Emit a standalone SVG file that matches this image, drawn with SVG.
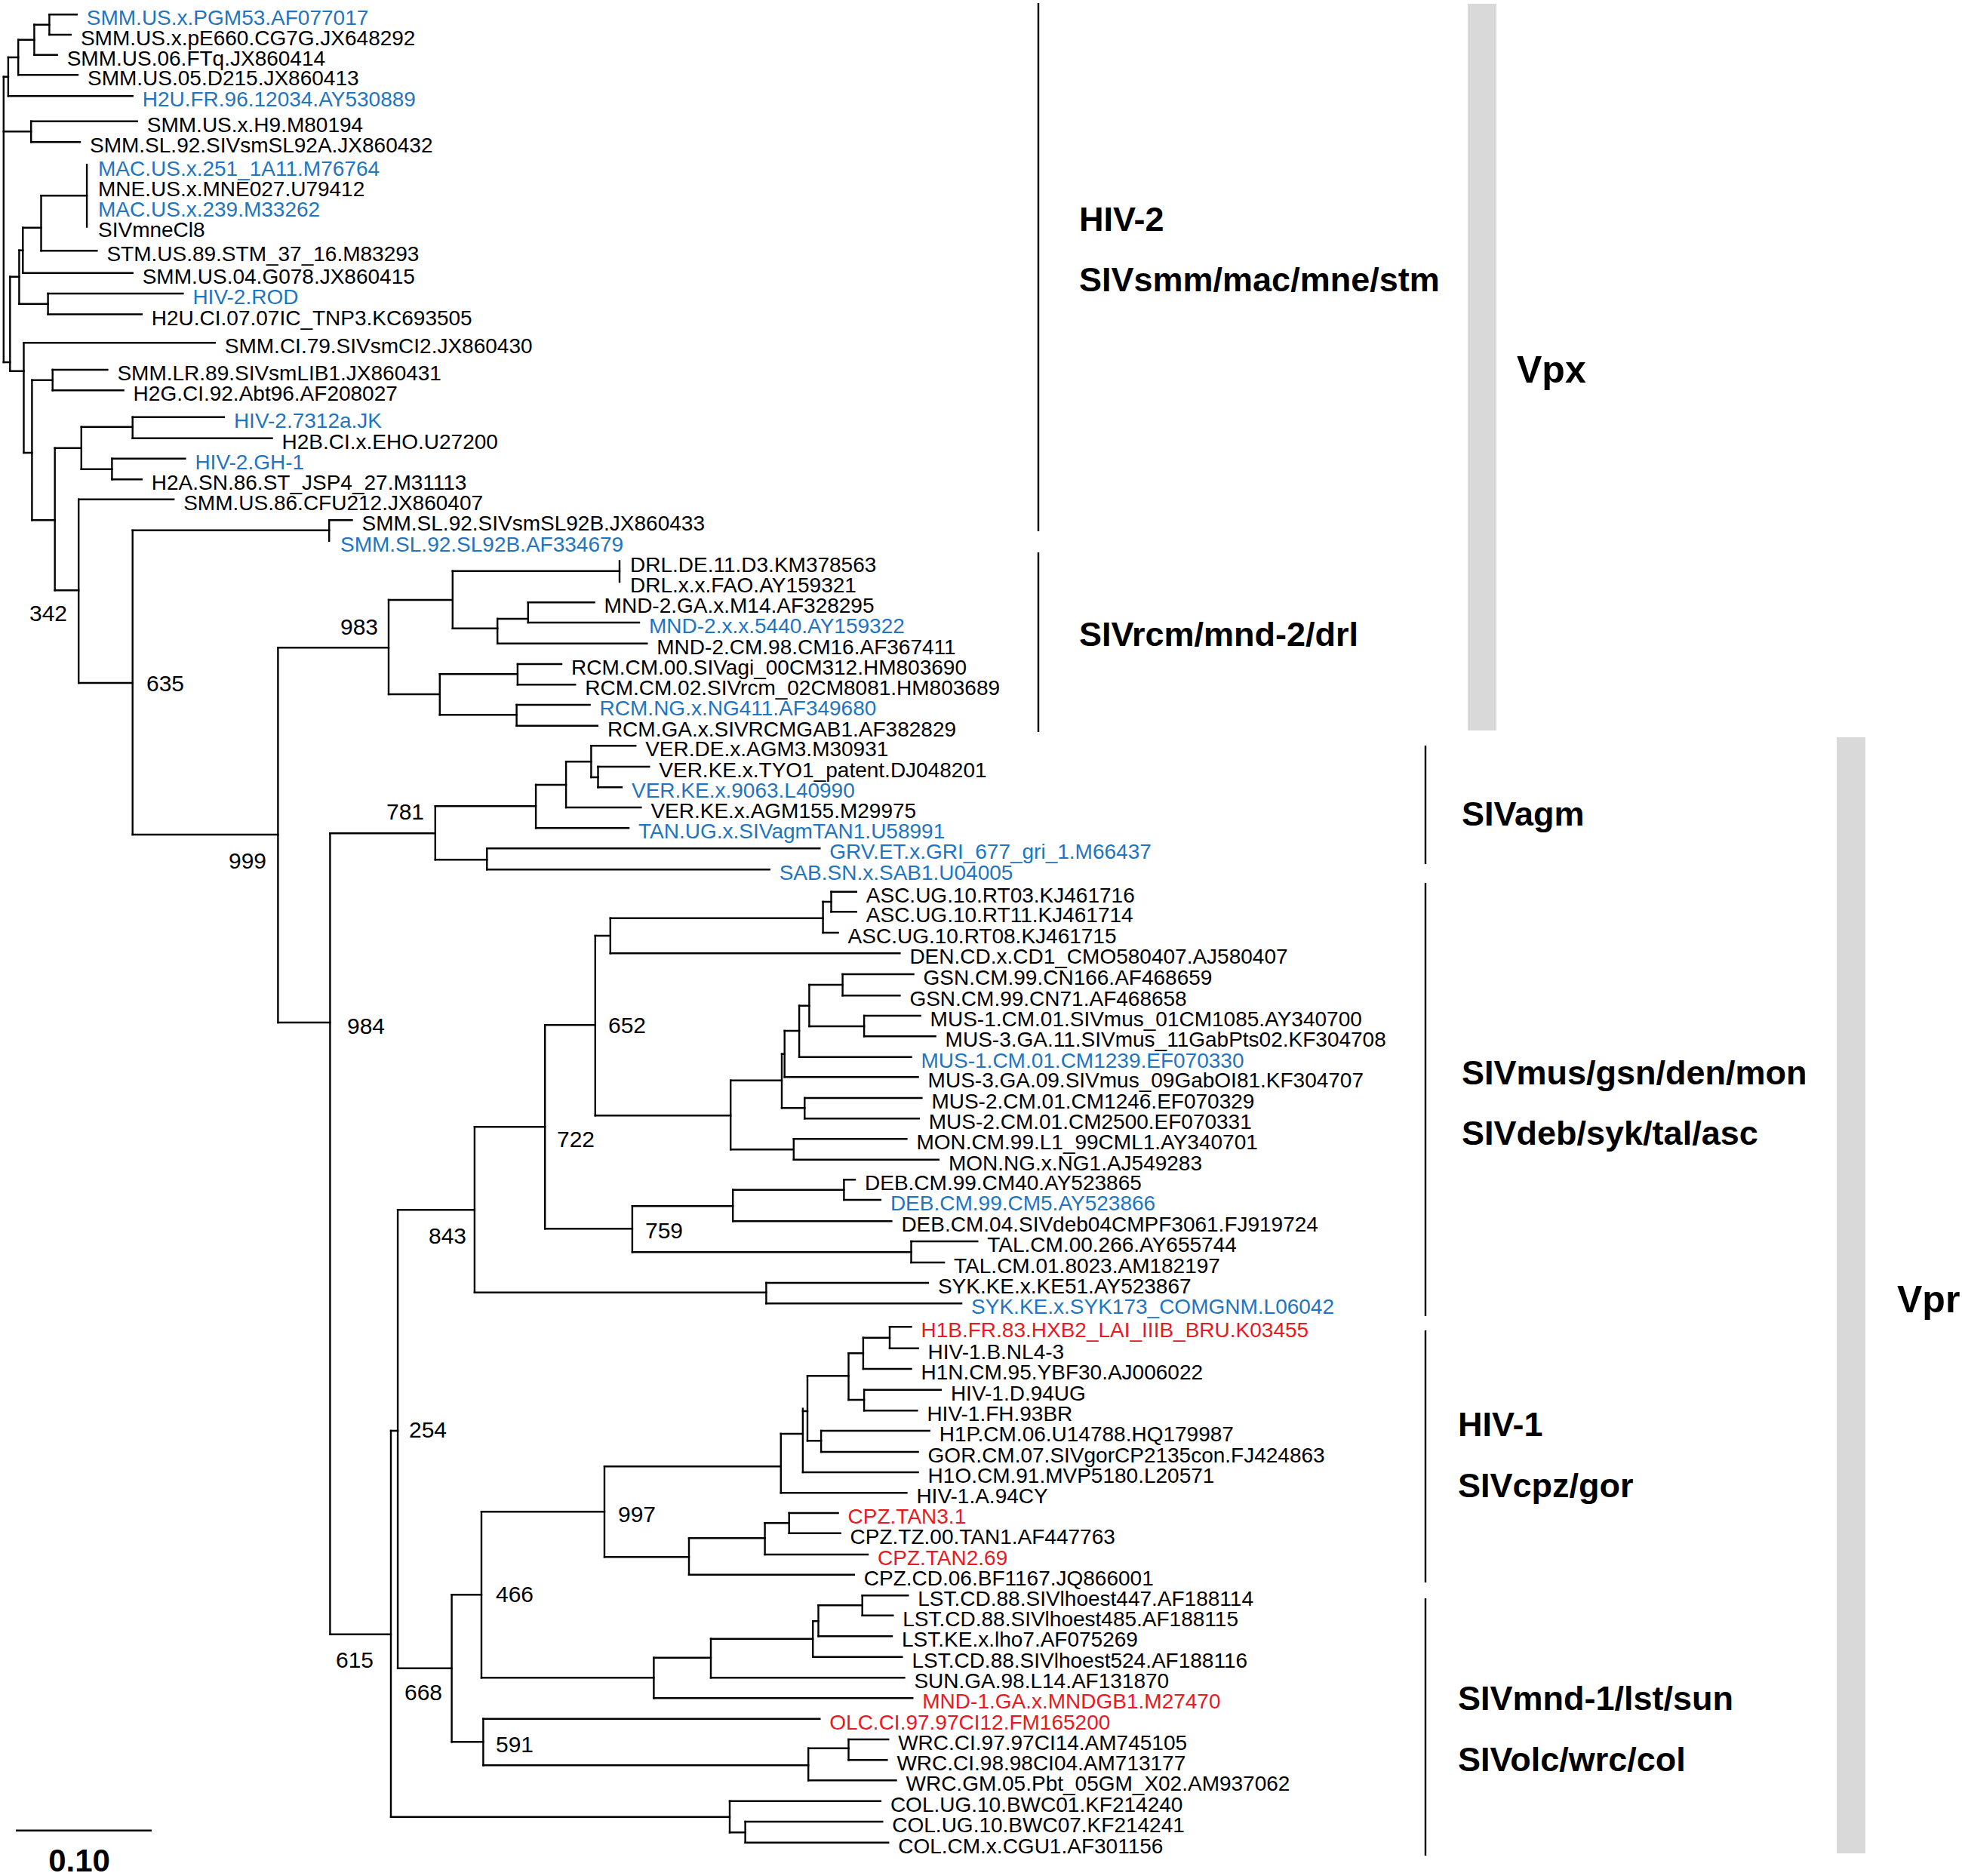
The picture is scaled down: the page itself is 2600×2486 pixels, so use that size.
<svg xmlns="http://www.w3.org/2000/svg" width="2600" height="2486" viewBox="0 0 2600 2486">
<style>
.t{font-family:"Liberation Sans",Arial,sans-serif;font-size:28px;fill:#000}
.b{fill:#1f75c1}
.r{fill:#e8191f}
.bs{font-family:"Liberation Sans",Arial,sans-serif;font-size:30px;fill:#000}
.cl{font-family:"Liberation Sans",Arial,sans-serif;font-size:45px;font-weight:bold;fill:#000}
.gp{font-family:"Liberation Sans",Arial,sans-serif;font-size:50px;font-weight:bold;fill:#000}
.br{fill:none;stroke:#000;stroke-width:2.4;stroke-linecap:square}
.bk{fill:none;stroke:#000;stroke-width:2.4}
</style>
<rect width="2600" height="2486" fill="#fff"/>
<g id="bars">
<rect x="1945" y="5" width="38" height="963" fill="#d9d9d9"/>
<rect x="2434" y="977" width="38" height="1479" fill="#d9d9d9"/>
</g>
<g id="connectors">
<path class="br" d="M65.4 19.3V46M45.4 32.7V72.7M24.2 52.7V99.3M10.9 76V127.3M4.8 101.7V480M41.2 160.7V188.3M13.3 366.7V491.7M25.4 331.7V402.7M30.3 301.7V361.7M54.5 259.3V332.3M115.1 218.3V300.5M63.6 389V416.5M31.5 454.3V600M42.4 503.7V689.3M69.7 490V517.3M72.7 593.7V782.3M107.8 565.7V621.7M175.7 552.7V580.7M148.4 607.7V635.3M104.2 661.7V905M436.2 689.3V716.7M175.7 702.7V1106M368.4 858.3V1355M515 795V920M599.8 756.7V832.7M821 743.5V771M659.2 820V852.7M699.8 798.3V825M582.8 893.3V947.3M685.9 880V907.3M684.6 934V961.7M437.4 1104.3V2165.7M576.8 1068.3V1139.3M710.1 1040V1097.3M750.1 1009.3V1070M783.4 988.3V1030M792.5 1016V1043.3M645.3 1124.3V1152.3M518 1896V2407.7M527.1 1603.3V2210.7M628.9 1493.3V1712.7M722.2 1358.3V1628.3M788.8 1240V1478.3M808.8 1216.7V1263.3M1090.6 1195V1236M1101.5 1181.7V1208.3M968.2 1431.7V1523.3M1051.8 1509.3V1536.7M1036 1396.7V1468.3M1039.7 1366V1427.3M1059.1 1332.7V1400.7M1072.4 1305V1360M1116.6 1291V1319.3M1145.1 1346V1373.3M1066.3 1455V1482.3M837.9 1598.3V1659.3M971.2 1576.7V1618.3M1118.4 1563.3V1590M1207.5 1645V1673M1015.4 1700V1727.3M598.6 2113.3V2308.3M638 2003.3V2223.3M801 1943.3V2063.3M1034.8 1900V1978.3M1063.9 1866.7V1951M1070 1823.3V1909.3M1088.1 1896V1924M1124.5 1793.3V1855M1145.1 1841.7V1869.3M1143.9 1772.7V1814M1179 1758.3V1786.7M913 2038.3V2086.7M1013.6 2018.3V2060M1045.7 2005V2031.7M866.4 2196.7V2250.3M942 2171.7V2223.3M1077.2 2148.3V2195.7M1084.5 2127.3V2168.3M1142.7 2114.3V2140.7M640.4 2277.7V2339.3M1071.2 2316.7V2359.3M1124.5 2305V2332.3M967 2386.7V2428.3M987.6 2414V2441.7"/>
<path class="br" d="M45.4 32.7H65.4M24.2 52.7H45.4M10.9 76H24.2M4.8 101.7H10.9M4.8 174.3H41.2M4.8 480H13.3M13.3 366.7H25.4M13.3 491.7H31.5M25.4 331.7H30.3M25.4 402.7H63.6M30.3 301.7H54.5M54.5 259.3H115.1M31.5 600H42.4M42.4 503.7H69.7M42.4 689.3H72.7M72.7 593.7H107.8M107.8 565.7H175.7M107.8 621.7H148.4M72.7 782.3H104.2M104.2 905H175.7M175.7 702.7H436.2M175.7 1106H368.4M368.4 858.3H515M368.4 1355H437.4M515 795H599.8M515 920H582.8M599.8 756.7H821M599.8 832.7H659.2M659.2 820H699.8M582.8 893.3H685.9M582.8 947.3H684.6M437.4 1104.3H576.8M437.4 2165.7H518M576.8 1068.3H710.1M576.8 1139.3H645.3M710.1 1040H750.1M750.1 1009.3H783.4M783.4 1030H792.5M518 1896H527.1M518 2407.7H967M527.1 1603.3H628.9M527.1 2210.7H598.6M628.9 1493.3H722.2M628.9 1712.7H1015.4M722.2 1358.3H788.8M722.2 1628.3H837.9M788.8 1240H808.8M788.8 1478.3H968.2M808.8 1216.7H1090.6M1090.6 1195H1101.5M968.2 1523.3H1051.8M968.2 1431.7H1036M1036 1396.7H1039.7M1036 1468.3H1066.3M1039.7 1366H1059.1M1059.1 1332.7H1072.4M1072.4 1305H1116.6M1072.4 1360H1145.1M837.9 1598.3H971.2M837.9 1659.3H1207.5M971.2 1576.7H1118.4M598.6 2113.3H638M598.6 2308.3H640.4M638 2003.3H801M638 2223.3H866.4M801 1943.3H1034.8M801 2063.3H913M1034.8 1900H1063.9M1063.9 1870H1070M1070 1909.3H1088.1M1070 1823.3H1124.5M1124.5 1793.3H1143.9M1124.5 1855H1145.1M1143.9 1772.7H1179M913 2038.3H1013.6M1013.6 2018.3H1045.7M866.4 2196.7H942M942 2171.7H1077.2M1077.2 2148.3H1084.5M1084.5 2127.3H1142.7M640.4 2339.3H1071.2M1071.2 2316.7H1124.5M967 2428.3H987.6"/>
<path class="br" d="M65.4 19.3H101.8M65.4 46H93.9M45.4 72.7H75.7M24.2 99.3H103M10.9 127.3H175.7M41.2 160.7H181.8M41.2 188.3H106M54.5 332.3H128.4M30.3 361.7H175.7M63.6 389H242.4M63.6 416.5H187.8M31.5 454.3H284.8M69.7 490H142.4M69.7 517.3H163.6M175.7 552.7H296.9M175.7 580.7H360.5M148.4 607.7H245.4M148.4 635.3H187.8M104.2 661.7H230.2M436.2 689.3H466.5M699.8 798.3H787.6M699.8 825H847M659.2 852.7H857.3M685.9 880H744M685.9 907.3H762.2M684.6 934H781.6M684.6 961.7H791.9M783.4 988.3H842.2M792.5 1016H860.3M792.5 1043.3H824M750.1 1070H849.4M710.1 1097.3H833.1M645.3 1124.3H1086.3M645.3 1152.3H1019.7M1101.5 1181.7H1134.8M1101.5 1208.3H1134.8M1090.6 1236H1110.6M808.8 1263.3H1192.4M1116.6 1291H1210.5M1116.6 1319.3H1192.4M1145.1 1346H1219.6M1145.1 1373.3H1239.6M1059.1 1400.7H1207.5M1039.7 1427.3H1216.6M1066.3 1455H1221.4M1066.3 1482.3H1217.8M1051.8 1509.3H1201.4M1051.8 1536.7H1243.9M1118.4 1563.3H1133M1118.4 1590H1166.9M971.2 1618.3H1181.4M1207.5 1645H1295.3M1207.5 1673H1251.1M1015.4 1700H1229.9M1015.4 1727.3H1274.1M1179 1758.3H1207.5M1179 1786.7H1216.6M1143.9 1814H1207.5M1145.1 1841.7H1246.9M1145.1 1869.3H1215.4M1088.1 1896H1231.7M1088.1 1924H1216.6M1063.9 1951H1216.6M1034.8 1978.3H1201.4M1045.7 2005H1110.6M1045.7 2031.7H1113.6M1013.6 2060H1150M913 2086.7H1131.8M1142.7 2114.3H1203.3M1142.7 2140.7H1183.3M1084.5 2168.3H1182M1077.2 2195.7H1195.4M942 2223.3H1198.4M866.4 2250.3H1209.3M640.4 2277.7H1086.3M1124.5 2305H1177.2M1124.5 2332.3H1175.4M1071.2 2359.3H1187.5M967 2386.7H1166.9M987.6 2414H1169.3M987.6 2441.7H1177.2"/>
</g>
<g id="leaves">
<g id="n01"><text class="t b" x="114.8" y="33.3">SMM.US.x.PGM53.AF077017</text></g>
<g id="n02"><text class="t" x="106.9" y="60">SMM.US.x.pE660.CG7G.JX648292</text></g>
<g id="n03"><text class="t" x="88.7" y="86.7">SMM.US.06.FTq.JX860414</text></g>
<g id="n04"><text class="t" x="116" y="113.3">SMM.US.05.D215.JX860413</text></g>
<g id="n05"><text class="t b" x="188.7" y="141.3">H2U.FR.96.12034.AY530889</text></g>
<g id="n06"><text class="t" x="194.8" y="174.7">SMM.US.x.H9.M80194</text></g>
<g id="n07"><text class="t" x="119" y="202.3">SMM.SL.92.SIVsmSL92A.JX860432</text></g>
<g id="n08"><text class="t b" x="130" y="233">MAC.US.x.251_1A11.M76764</text></g>
<g id="n09"><text class="t" x="130" y="260">MNE.US.x.MNE027.U79412</text></g>
<g id="n10"><text class="t b" x="130" y="287">MAC.US.x.239.M33262</text></g>
<g id="n11"><text class="t" x="130" y="314">SIVmneCl8</text></g>
<g id="n12"><text class="t" x="141.4" y="346.3">STM.US.89.STM_37_16.M83293</text></g>
<g id="n13"><text class="t" x="188.7" y="375.7">SMM.US.04.G078.JX860415</text></g>
<g id="n14"><text class="t b" x="255.4" y="403">HIV-2.ROD</text></g>
<g id="n15"><text class="t" x="200.8" y="430.5">H2U.CI.07.07IC_TNP3.KC693505</text></g>
<g id="n16"><text class="t" x="297.8" y="468.3">SMM.CI.79.SIVsmCI2.JX860430</text></g>
<g id="n17"><text class="t" x="155.4" y="504">SMM.LR.89.SIVsmLIB1.JX860431</text></g>
<g id="n18"><text class="t" x="176.6" y="531.3">H2G.CI.92.Abt96.AF208027</text></g>
<g id="n19"><text class="t b" x="309.9" y="566.7">HIV-2.7312a.JK</text></g>
<g id="n20"><text class="t" x="373.5" y="594.7">H2B.CI.x.EHO.U27200</text></g>
<g id="n21"><text class="t b" x="258.4" y="621.7">HIV-2.GH-1</text></g>
<g id="n22"><text class="t" x="200.8" y="649.3">H2A.SN.86.ST_JSP4_27.M31113</text></g>
<g id="n23"><text class="t" x="243.2" y="675.7">SMM.US.86.CFU212.JX860407</text></g>
<g id="n24"><text class="t" x="479.5" y="703.3">SMM.SL.92.SIVsmSL92B.JX860433</text></g>
<g id="n25"><text class="t b" x="451" y="730.7">SMM.SL.92.SL92B.AF334679</text></g>
<g id="n26"><text class="t" x="835" y="757.5">DRL.DE.11.D3.KM378563</text></g>
<g id="n27"><text class="t" x="835" y="785">DRL.x.x.FAO.AY159321</text></g>
<g id="n28"><text class="t" x="800.6" y="812.3">MND-2.GA.x.M14.AF328295</text></g>
<g id="n29"><text class="t b" x="860" y="839">MND-2.x.x.5440.AY159322</text></g>
<g id="n30"><text class="t" x="870.3" y="866.7">MND-2.CM.98.CM16.AF367411</text></g>
<g id="n31"><text class="t" x="757" y="894">RCM.CM.00.SIVagi_00CM312.HM803690</text></g>
<g id="n32"><text class="t" x="775.2" y="921.3">RCM.CM.02.SIVrcm_02CM8081.HM803689</text></g>
<g id="n33"><text class="t b" x="794.6" y="948">RCM.NG.x.NG411.AF349680</text></g>
<g id="n34"><text class="t" x="804.9" y="975.7">RCM.GA.x.SIVRCMGAB1.AF382829</text></g>
<g id="n35"><text class="t" x="855.2" y="1002.3">VER.DE.x.AGM3.M30931</text></g>
<g id="n36"><text class="t" x="873.3" y="1030">VER.KE.x.TYO1_patent.DJ048201</text></g>
<g id="n37"><text class="t b" x="837" y="1057.3">VER.KE.x.9063.L40990</text></g>
<g id="n38"><text class="t" x="862.4" y="1084">VER.KE.x.AGM155.M29975</text></g>
<g id="n39"><text class="t b" x="846.1" y="1111.3">TAN.UG.x.SIVagmTAN1.U58991</text></g>
<g id="n40"><text class="t b" x="1099.3" y="1138.3">GRV.ET.x.GRI_677_gri_1.M66437</text></g>
<g id="n41"><text class="t b" x="1032.7" y="1166.3">SAB.SN.x.SAB1.U04005</text></g>
<g id="n42"><text class="t" x="1147.8" y="1195.7">ASC.UG.10.RT03.KJ461716</text></g>
<g id="n43"><text class="t" x="1147.8" y="1222.3">ASC.UG.10.RT11.KJ461714</text></g>
<g id="n44"><text class="t" x="1123.6" y="1250">ASC.UG.10.RT08.KJ461715</text></g>
<g id="n45"><text class="t" x="1205.4" y="1277.3">DEN.CD.x.CD1_CMO580407.AJ580407</text></g>
<g id="n46"><text class="t" x="1223.5" y="1305">GSN.CM.99.CN166.AF468659</text></g>
<g id="n47"><text class="t" x="1205.4" y="1333.3">GSN.CM.99.CN71.AF468658</text></g>
<g id="n48"><text class="t" x="1232.6" y="1360">MUS-1.CM.01.SIVmus_01CM1085.AY340700</text></g>
<g id="n49"><text class="t" x="1252.6" y="1387.3">MUS-3.GA.11.SIVmus_11GabPts02.KF304708</text></g>
<g id="n50"><text class="t b" x="1220.5" y="1414.7">MUS-1.CM.01.CM1239.EF070330</text></g>
<g id="n51"><text class="t" x="1229.6" y="1441.3">MUS-3.GA.09.SIVmus_09GabOI81.KF304707</text></g>
<g id="n52"><text class="t" x="1234.4" y="1469">MUS-2.CM.01.CM1246.EF070329</text></g>
<g id="n53"><text class="t" x="1230.8" y="1496.3">MUS-2.CM.01.CM2500.EF070331</text></g>
<g id="n54"><text class="t" x="1214.4" y="1523.3">MON.CM.99.L1_99CML1.AY340701</text></g>
<g id="n55"><text class="t" x="1256.9" y="1550.7">MON.NG.x.NG1.AJ549283</text></g>
<g id="n56"><text class="t" x="1146" y="1577.3">DEB.CM.99.CM40.AY523865</text></g>
<g id="n57"><text class="t b" x="1179.9" y="1604">DEB.CM.99.CM5.AY523866</text></g>
<g id="n58"><text class="t" x="1194.4" y="1632.3">DEB.CM.04.SIVdeb04CMPF3061.FJ919724</text></g>
<g id="n59"><text class="t" x="1308.3" y="1659">TAL.CM.00.266.AY655744</text></g>
<g id="n60"><text class="t" x="1264.1" y="1687">TAL.CM.01.8023.AM182197</text></g>
<g id="n61"><text class="t" x="1242.9" y="1714">SYK.KE.x.KE51.AY523867</text></g>
<g id="n62"><text class="t b" x="1287.1" y="1741.3">SYK.KE.x.SYK173_COMGNM.L06042</text></g>
<g id="n63"><text class="t r" x="1220.5" y="1772.3">H1B.FR.83.HXB2_LAI_IIIB_BRU.K03455</text></g>
<g id="n64"><text class="t" x="1229.6" y="1800.7">HIV-1.B.NL4-3</text></g>
<g id="n65"><text class="t" x="1220.5" y="1828">H1N.CM.95.YBF30.AJ006022</text></g>
<g id="n66"><text class="t" x="1259.9" y="1855.7">HIV-1.D.94UG</text></g>
<g id="n67"><text class="t" x="1228.4" y="1883.3">HIV-1.FH.93BR</text></g>
<g id="n68"><text class="t" x="1244.7" y="1910">H1P.CM.06.U14788.HQ179987</text></g>
<g id="n69"><text class="t" x="1229.6" y="1938">GOR.CM.07.SIVgorCP2135con.FJ424863</text></g>
<g id="n70"><text class="t" x="1229.6" y="1965">H1O.CM.91.MVP5180.L20571</text></g>
<g id="n71"><text class="t" x="1214.4" y="1992.3">HIV-1.A.94CY</text></g>
<g id="n72"><text class="t r" x="1123.6" y="2019">CPZ.TAN3.1</text></g>
<g id="n73"><text class="t" x="1126.6" y="2045.7">CPZ.TZ.00.TAN1.AF447763</text></g>
<g id="n74"><text class="t r" x="1163" y="2074">CPZ.TAN2.69</text></g>
<g id="n75"><text class="t" x="1144.8" y="2100.7">CPZ.CD.06.BF1167.JQ866001</text></g>
<g id="n76"><text class="t" x="1216.3" y="2128.3">LST.CD.88.SIVlhoest447.AF188114</text></g>
<g id="n77"><text class="t" x="1196.3" y="2154.7">LST.CD.88.SIVlhoest485.AF188115</text></g>
<g id="n78"><text class="t" x="1195" y="2182.3">LST.KE.x.lho7.AF075269</text></g>
<g id="n79"><text class="t" x="1208.4" y="2209.7">LST.CD.88.SIVlhoest524.AF188116</text></g>
<g id="n80"><text class="t" x="1211.4" y="2237.3">SUN.GA.98.L14.AF131870</text></g>
<g id="n81"><text class="t r" x="1222.3" y="2264.3">MND-1.GA.x.MNDGB1.M27470</text></g>
<g id="n82"><text class="t r" x="1099.3" y="2291.7">OLC.CI.97.97CI12.FM165200</text></g>
<g id="n83"><text class="t" x="1190.2" y="2319">WRC.CI.97.97CI14.AM745105</text></g>
<g id="n84"><text class="t" x="1188.4" y="2346.3">WRC.CI.98.98CI04.AM713177</text></g>
<g id="n85"><text class="t" x="1200.5" y="2373.3">WRC.GM.05.Pbt_05GM_X02.AM937062</text></g>
<g id="n86"><text class="t" x="1179.9" y="2400.7">COL.UG.10.BWC01.KF214240</text></g>
<g id="n87"><text class="t" x="1182.3" y="2428">COL.UG.10.BWC07.KF214241</text></g>
<g id="n88"><text class="t" x="1190.2" y="2455.7">COL.CM.x.CGU1.AF301156</text></g>
</g>
<g id="bootstrap">
<text class="bs" x="39" y="823">342</text>
<text class="bs" x="194" y="916">635</text>
<text class="bs" x="303" y="1151">999</text>
<text class="bs" x="451" y="841">983</text>
<text class="bs" x="512" y="1086">781</text>
<text class="bs" x="460" y="1370">984</text>
<text class="bs" x="806" y="1369">652</text>
<text class="bs" x="738" y="1520">722</text>
<text class="bs" x="568" y="1648">843</text>
<text class="bs" x="855" y="1641">759</text>
<text class="bs" x="542" y="1905">254</text>
<text class="bs" x="819" y="2017">997</text>
<text class="bs" x="657" y="2123">466</text>
<text class="bs" x="445" y="2210">615</text>
<text class="bs" x="536" y="2253">668</text>
<text class="bs" x="657" y="2322">591</text>
</g>
<g id="brackets">
<path class="bk" d="M1376 4V704M1376 732V970M1889 988V1145M1889 1170V1744M1889 1763V2097M1889 2118V2459"/>
</g>
<g id="clade-labels">
<text class="cl" x="1430" y="306">HIV-2</text>
<text class="cl" x="1430" y="386">SIVsmm/mac/mne/stm</text>
<text class="cl" x="1430" y="856">SIVrcm/mnd-2/drl</text>
<text class="cl" x="1937" y="1094">SIVagm</text>
<text class="cl" x="1937" y="1437">SIVmus/gsn/den/mon</text>
<text class="cl" x="1937" y="1517">SIVdeb/syk/tal/asc</text>
<text class="cl" x="1932" y="1903">HIV-1</text>
<text class="cl" x="1932" y="1984">SIVcpz/gor</text>
<text class="cl" x="1932" y="2266">SIVmnd-1/lst/sun</text>
<text class="cl" x="1932" y="2347">SIVolc/wrc/col</text>
<text class="gp" x="2010" y="507">Vpx</text>
<text class="gp" x="2514" y="1739">Vpr</text>
</g>
<g id="scale">
<path class="bk" d="M21 2425.7H201"/>
<text class="cl" x="105" y="2480" text-anchor="middle" style="font-size:42px">0.10</text>
</g>
</svg>
